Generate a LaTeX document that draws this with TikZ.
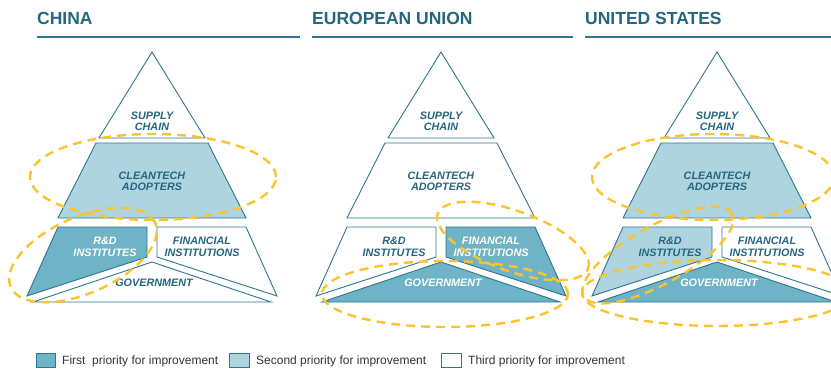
\documentclass[tikz,border=0pt]{standalone}
\usepackage{fontspec}
\setmainfont{Liberation Sans}
\definecolor{tealline}{HTML}{2E7591}
\definecolor{tealtext}{HTML}{24667F}
\definecolor{firstp}{HTML}{6FB4C6}
\definecolor{secondp}{HTML}{AED5DF}
\definecolor{dashy}{HTML}{FBC42E}
\definecolor{legendtext}{HTML}{333333}

\newcommand\pyramid[7]{%
  \draw[lvl#3] (#1,52) -- ({#1+53},138) -- ({#1-53},138) -- cycle;
  \node[txt#3] (#2sup) at (#1,121.5) {SUPPLY\\CHAIN};
  \draw[lvl#4] ({#1-56},143) -- ({#1+56},143) -- ({#1+94},218) -- ({#1-94},218) -- cycle;
  \node[txt#4] (#2cln) at (#1,181.5) {CLEANTECH\\ADOPTERS};
  \draw[lvl#5] ({#1-94},227) -- ({#1-5},227) -- ({#1-5},257) -- ({#1-125},296) -- cycle;
  \node[txt#5] (#2rd) at ({#1-47},247) {R\&D\\INSTITUTES};
  \draw[lvl#6] ({#1+5},227) -- ({#1+94},227) -- ({#1+125},296) -- ({#1+5},257) -- cycle;
  \node[txt#6] (#2fin) at ({#1+50},247) {FINANCIAL\\INSTITUTIONS};
  \draw[lvl#7] (#1,262) -- ({#1+119},302) -- ({#1-119},302) -- cycle;
  \node[txt#7] (#2gov) at ({#1+2},283) {GOVERNMENT};
}

\begin{document}
\begin{tikzpicture}[x=1pt,y=-1pt,
  piece/.style={draw=tealline, line width=0.9pt, line join=miter},
  lvl1/.style={piece, fill=firstp},
  lvl2/.style={piece, fill=secondp},
  lvl3/.style={piece, fill=white},
  txt2/.style={font=\fontsize{10.8}{11.5}\selectfont\bfseries\itshape, text=tealtext, align=center, inner sep=0pt},
  txt3/.style={txt2},
  txt1/.style={txt2, text=white},
  hdr/.style={font=\fontsize{17.5}{20}\selectfont\bfseries, text=tealtext, anchor=base west, inner sep=0pt},
  hline/.style={draw=tealline, line width=2pt},
  ring/.style={draw=dashy, line width=2.4pt, dash pattern=on 9pt off 6pt},
  legtxt/.style={font=\fontsize{12}{13}\selectfont, text=legendtext, anchor=base west, inner sep=0pt},
]
\useasboundingbox (0,0) rectangle (831,369);
\clip (0,0) rectangle (831,369);

% headers
\node[hdr] (hcn) at (37,25) {CHINA};
\draw[hline] (37,37) -- (300,37);
\node[hdr] (heu) at (312,25) {EUROPEAN UNION};
\draw[hline] (312,37) -- (573,37);
\node[hdr] (hus) at (585,25) {UNITED STATES};
\draw[hline] (585,37) -- (831,37);

% pyramids: supply, cleantech, R&D, financial, government
\pyramid{152}{cn}{3}{2}{1}{3}{3}
\pyramid{441}{eu}{3}{3}{3}{1}{1}
\pyramid{717}{us}{3}{2}{2}{3}{1}

% dashed rings
\draw[ring] (153,177) ellipse [x radius=123pt, y radius=43pt];
\draw[ring, rotate around={24:(83,255)}] (83,255) ellipse [x radius=79pt, y radius=38pt];
\draw[ring, rotate around={-20:(513,241)}] (513,241) ellipse [x radius=80pt, y radius=30pt];
\draw[ring] (445,294) ellipse [x radius=123pt, y radius=33pt];
\draw[ring] (713,177) ellipse [x radius=121pt, y radius=43pt];
\draw[ring, rotate around={29:(658,255)}] (658,255) ellipse [x radius=85pt, y radius=29pt];
\draw[ring] (717,293) ellipse [x radius=135pt, y radius=33pt];

% legend
\draw[lvl1] (36,353) rectangle (55,367);
\node[legtxt] (l1) at (62,364.5) {First\ \ priority for improvement};
\draw[lvl2] (229,353) rectangle (249,367);
\node[legtxt] (l2) at (256,364.5) {Second priority for improvement};
\draw[lvl3] (441,353) rectangle (461,367);
\node[legtxt] (l3) at (468,364.5) {Third priority for improvement};
\end{tikzpicture}
\end{document}
